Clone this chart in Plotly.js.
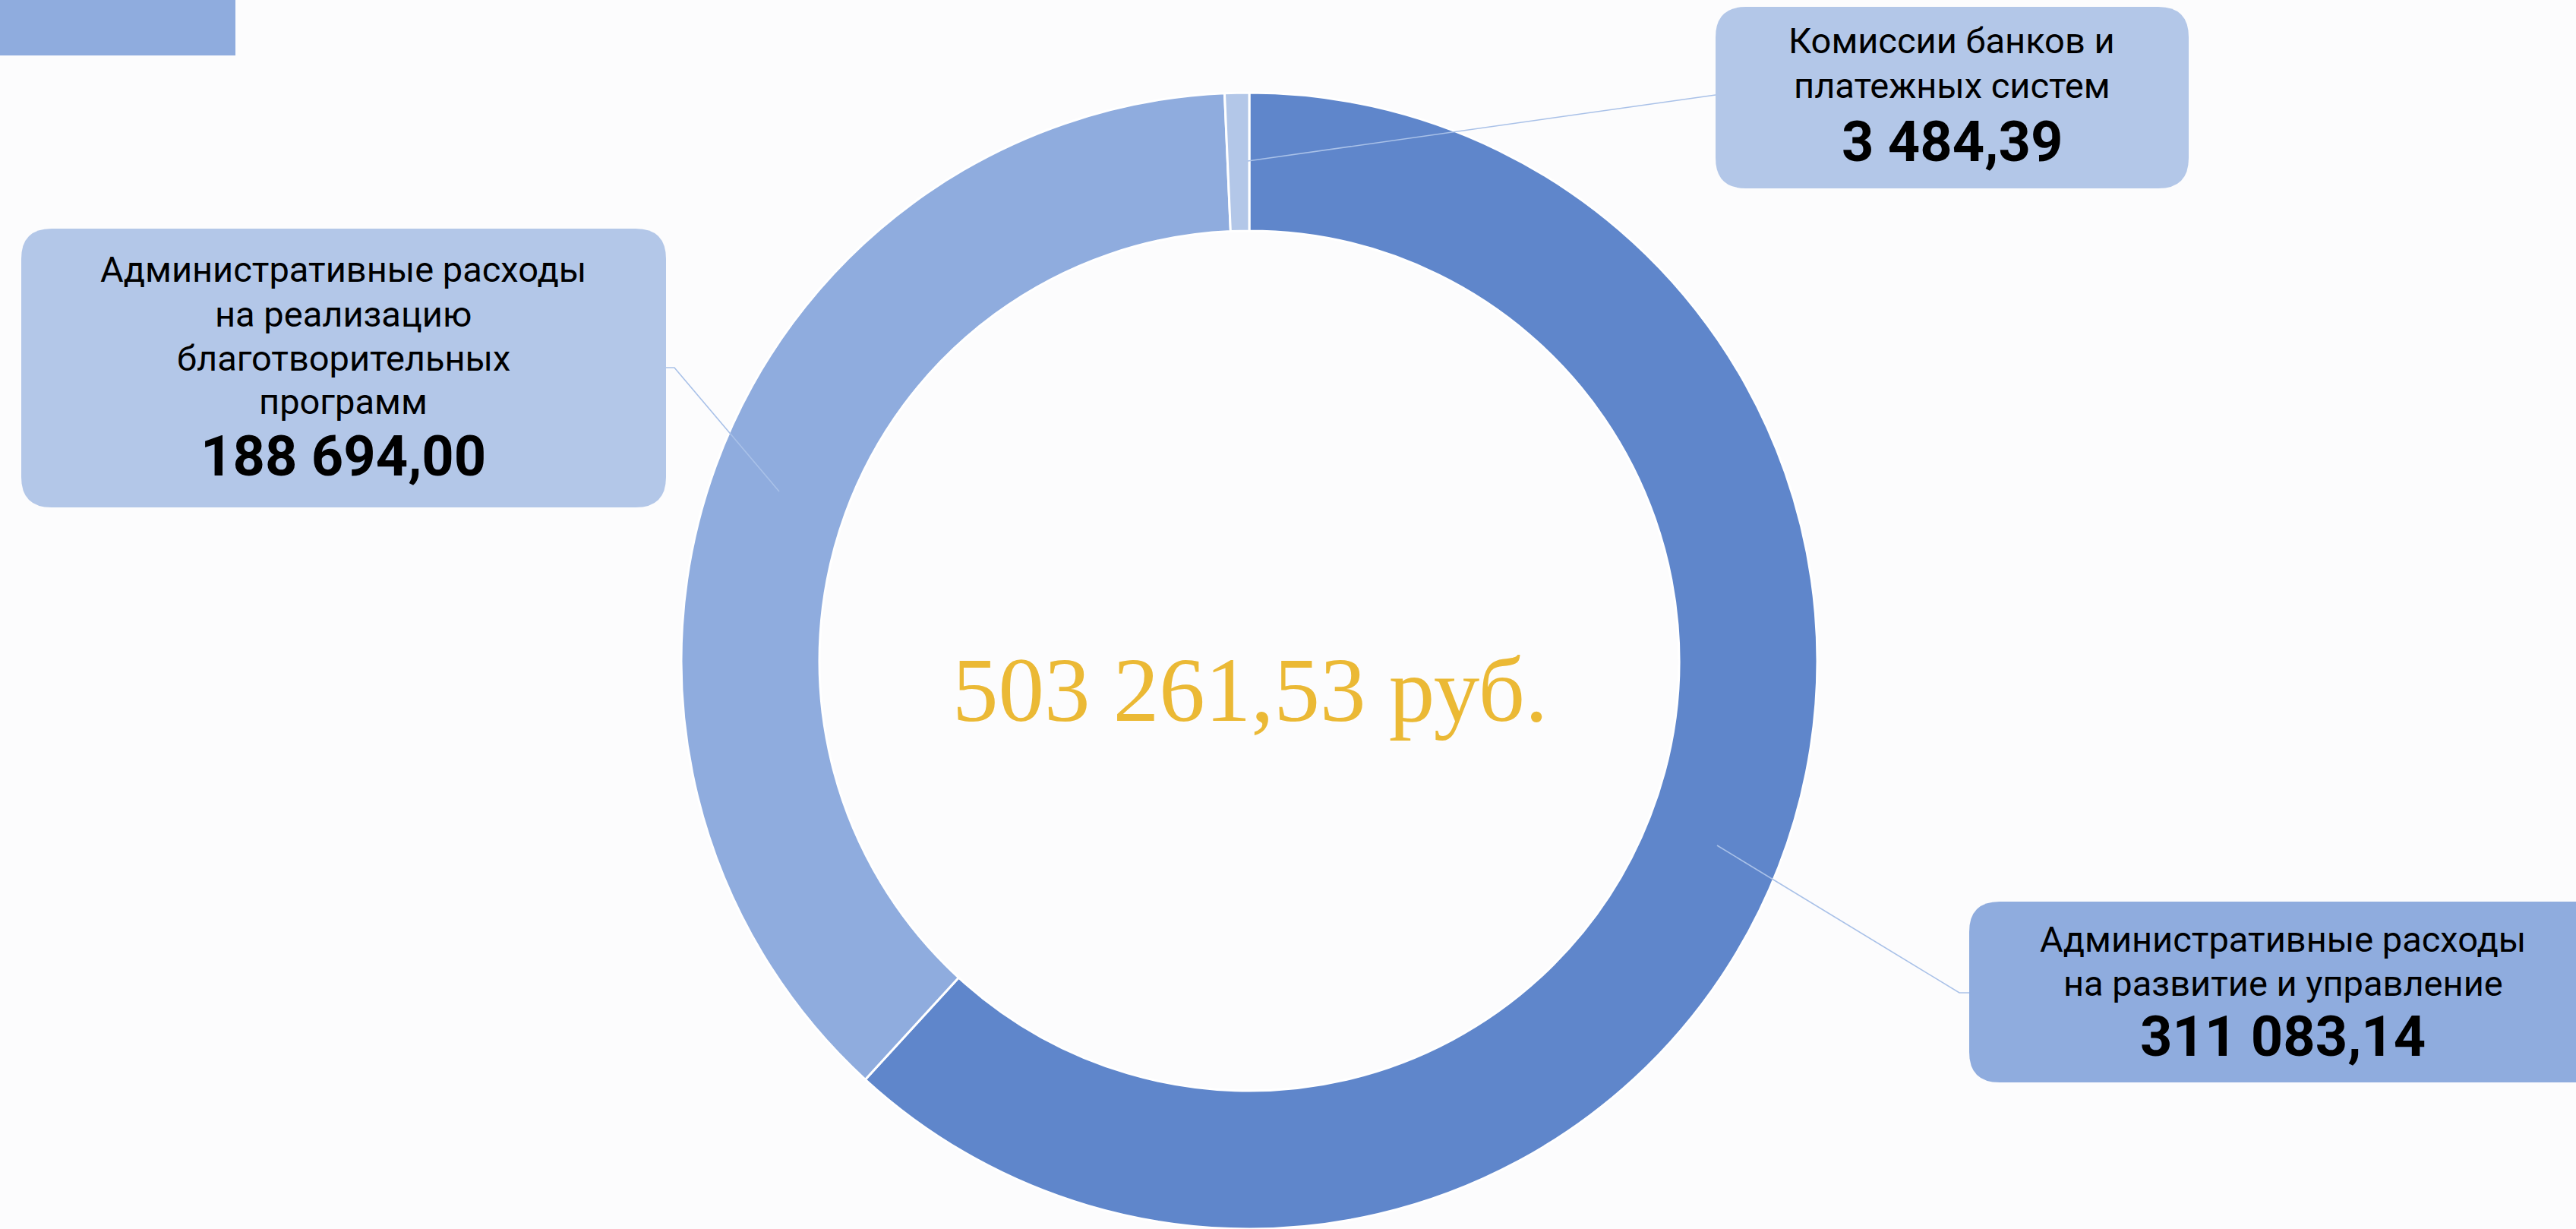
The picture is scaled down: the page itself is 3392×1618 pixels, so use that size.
<!DOCTYPE html>
<html>
<head>
<meta charset="utf-8">
<script src="https://cdn.plot.ly/plotly-3.0.1.min.js"></script>
<style>
html,body{margin:0;padding:0;overflow:hidden;background:#FCFCFD;}
#chart{width:3392px;height:1618px;}
</style>
</head>
<body>
<div id="chart"></div>
<script>
// ---- data ----
const categories = [
  "Административные расходы на развитие и управление",
  "Административные расходы на реализацию благотворительных программ",
  "Комиссии банков и платежных систем"
];
const labelLines = [
  ["Административные расходы", "на развитие и управление"],
  ["Административные расходы", "на реализацию", "благотворительных", "программ"],
  ["Комиссии банков и", "платежных систем"]
];
const values = [311083.14, 188694.00, 3484.39];
const sliceColors = ["#5F86CB", "#8FACDE", "#B3C7E8"];
const boxColors = ["#8FACDE", "#B3C7E8", "#B3C7E8"];
const currency = "руб.";

// ---- helpers ----
const W = 3392, H = 1618;
const fx = p => p / W;
const fy = p => 1 - p / H;
function fmt(v) {
  const parts = v.toFixed(2).split(".");
  const intPart = parts[0].replace(/\B(?=(\d{3})+(?!\d))/g, " ");
  return intPart + "," + parts[1];
}
function rr(x0, y0, x1, y1, rad) {
  const P = (x, y) => fx(x).toFixed(6) + "," + fy(y).toFixed(6);
  return "M" + P(x0 + rad, y0) + " L" + P(x1 - rad, y0) + " Q" + P(x1, y0) + " " + P(x1, y0 + rad) +
    " L" + P(x1, y1 - rad) + " Q" + P(x1, y1) + " " + P(x1 - rad, y1) +
    " L" + P(x0 + rad, y1) + " Q" + P(x0, y1) + " " + P(x0, y1 - rad) +
    " L" + P(x0, y0 + rad) + " Q" + P(x0, y0) + " " + P(x0 + rad, y0) + " Z";
}
function poly(pts) {
  return pts.map((p, i) => (i ? "L" : "M") + fx(p[0]).toFixed(6) + "," + fy(p[1]).toFixed(6)).join(" ");
}

const total = values.reduce((a, b) => a + b, 0);

// ---- layout geometry (pixels) ----
const donutCx = 1645, donutTop = 122;
const outerR = (H - donutTop) / 2;
const innerR = 566;

const boxes = [
  {x0: 2593, y0: 1187, x1: 3430, y1: 1425, tx: 3006, firstY: 1236, ny: 1364},
  {x0: 28,   y0: 301,  x1: 877,  y1: 668,  tx: 452,  firstY: 355,  ny: 600},
  {x0: 2259, y0: 9,    x1: 2882, y1: 248,  tx: 2570, firstY: 54,   ny: 186}
];
const linePitch = 58;
const leaders = [
  [[2261, 1113], [2580, 1307], [2593, 1307]],
  [[1026, 647], [888, 484], [877, 484]],
  [[1643, 212], [2259, 125]]
];

const shapes = [];
shapes.push({type: "rect", xref: "paper", yref: "paper", x0: fx(0), x1: fx(310), y0: fy(73), y1: fy(0),
  fillcolor: "#8FACDE", line: {width: 0}, layer: "below"});
boxes.forEach((b, i) => {
  shapes.push({type: "path", xref: "paper", yref: "paper", path: rr(b.x0, b.y0, b.x1, b.y1, 40),
    fillcolor: boxColors[i], line: {width: 0}});
});
leaders.forEach(pts => {
  shapes.push({type: "path", xref: "paper", yref: "paper", path: poly(pts),
    line: {color: "#A9C1E8", width: 1.6}});
});

const annotations = [];
boxes.forEach((b, i) => {
  labelLines[i].forEach((ln, k) => {
    annotations.push({xref: "paper", yref: "paper", x: fx(b.tx), y: fy(b.firstY + k * linePitch),
      xanchor: "center", yanchor: "middle", showarrow: false, text: ln,
      font: {family: "Roboto, 'Noto Sans', sans-serif", size: 47, color: "#000000"}});
  });
  annotations.push({xref: "paper", yref: "paper", x: fx(b.tx), y: fy(b.ny), xanchor: "center", yanchor: "middle",
    showarrow: false, text: "<b>" + fmt(values[i]) + "</b>",
    font: {family: "Roboto, 'Noto Sans', sans-serif", size: 74, color: "#000000"}});
});
annotations.push({xref: "paper", yref: "paper", x: fx(1646), y: fy(908), xanchor: "center", yanchor: "middle",
  showarrow: false, text: fmt(total) + " " + currency,
  font: {family: "'Liberation Serif', 'DejaVu Serif', serif", size: 121, color: "#EBB935"}});

const trace = {
  type: "pie",
  labels: categories,
  values: values,
  sort: false,
  direction: "clockwise",
  rotation: 0,
  hole: innerR / outerR,
  textinfo: "none",
  hoverinfo: "label+value",
  showlegend: false,
  marker: {colors: sliceColors, line: {color: "#FFFFFF", width: 3}},
  domain: {x: [fx(donutCx - outerR), fx(donutCx + outerR)], y: [0, fy(donutTop)]}
};

const layout = {
  width: W, height: H,
  margin: {l: 0, r: 0, t: 0, b: 0},
  paper_bgcolor: "#FCFCFD",
  plot_bgcolor: "#FCFCFD",
  showlegend: false,
  shapes: shapes,
  annotations: annotations
};

Plotly.newPlot("chart", [trace], layout, {displayModeBar: false, staticPlot: true});
</script>
</body>
</html>
